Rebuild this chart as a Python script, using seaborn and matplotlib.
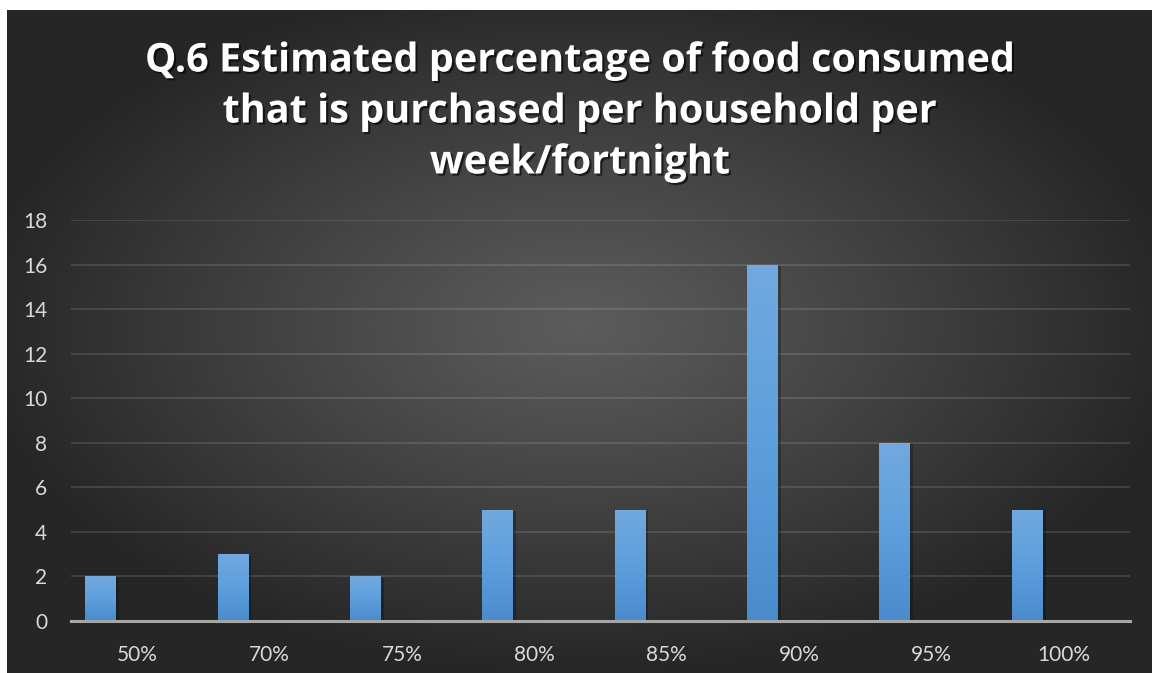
import numpy as np
import matplotlib
matplotlib.use("Agg")
import matplotlib.pyplot as plt
import matplotlib.patheffects as pe
from matplotlib.colors import LinearSegmentedColormap
import seaborn as sns

# Survey responses per category
categories = ["50%", "70%", "75%", "80%", "85%", "90%", "95%", "100%"]
counts = [2, 3, 2, 5, 5, 16, 8, 5]
y_ticks = [0, 2, 4, 6, 8, 10, 12, 14, 16, 18]
title = "Q.6 Estimated percentage of food consumed\nthat is purchased per household per\nweek/fortnight"

sns.set_theme(style="dark")
plt.rcParams["font.family"] = ["Lato", "DejaVu Sans"]

W, H = 1152, 673
fig = plt.figure(figsize=(W / 100, H / 100), dpi=100)
fig.patch.set_facecolor("white")

# Dark radial backdrop for the chart area
bg = fig.add_axes([7 / W, 0, 1 - 7 / W, 663 / H])
bg.set_axis_off()
gx, gy = np.meshgrid(np.linspace(-1, 1, 600), np.linspace(-1, 1, 350))
cx, cy = 0.0, -0.05
r = np.sqrt(((gx - cx) / 1.05) ** 2 + ((gy - cy) / 1.05) ** 2)
r = np.clip(r, 0, 1)
c_in, c_out = 0.36, 0.15
val = c_in + (c_out - c_in) * r ** 1.1
bg.imshow(np.dstack([val, val, val]), aspect="auto", extent=[0, 1, 0, 1],
          interpolation="bilinear")
bg.set_xlim(0, 1)
bg.set_ylim(0, 1)

# Plot area
left, right = 71 / W, 1130 / W
bottom, top = (H - 621) / H, (H - 220) / H
ax = fig.add_axes([left, bottom, right - left, top - bottom])
ax.patch.set_alpha(0)

bar_w = 0.234
bar_shift = -0.276
sns.barplot(x=categories, y=counts, width=bar_w, color="#5b9bd5",
            ax=ax, zorder=3, saturation=1)

blue = LinearSegmentedColormap.from_list("bar", ["#4a8bcd", "#5d9fdc", "#72a9df"])
grad = np.linspace(0, 1, 256).reshape(-1, 1)
for p in ax.patches:
    p.set_x(p.get_x() + bar_shift)
    p.set_edgecolor("none")
    p.set_path_effects([pe.SimplePatchShadow(offset=(2, -1), shadow_rgbFace="black", alpha=0.25),
                        pe.Normal()])
    x0, y0 = p.get_x(), p.get_y()
    w, h = p.get_width(), p.get_height()
    im = ax.imshow(grad, cmap=blue, aspect="auto", origin="lower",
                   extent=[x0, x0 + w, y0, y0 + h], zorder=4, interpolation="bilinear")
    im.set_clip_path(p)

ax.set_xlim(-0.5, len(categories) - 0.5)
ax.set_ylim(0, 18)
ax.set_yticks(y_ticks)
ax.grid(axis="y", color="white", alpha=0.13, linewidth=1.3, zorder=1)
ax.grid(axis="x", visible=False)
for s in ["top", "right", "left"]:
    ax.spines[s].set_visible(False)
ax.spines["bottom"].set_color("#a6a6a6")
ax.spines["bottom"].set_linewidth(2.2)
ax.spines["bottom"].set_zorder(5)
ax.tick_params(axis="both", length=0, colors="#d9d9d9", labelsize=15)
ax.tick_params(axis="y", pad=17)
ax.tick_params(axis="x", pad=17)
ax.set_xlabel("")
ax.set_ylabel("")

fig.text(0.5 + 4 / W, 1 - 112 / H, title, ha="center", va="center",
         color="white", fontsize=28.5, fontweight="bold", linespacing=1.40,
         family=["Open Sans", "DejaVu Sans"],
         path_effects=[pe.withSimplePatchShadow(offset=(1.5, -1.5), shadow_rgbFace="black", alpha=0.6)])

fig.savefig("out.png", dpi=100, facecolor=fig.get_facecolor())
